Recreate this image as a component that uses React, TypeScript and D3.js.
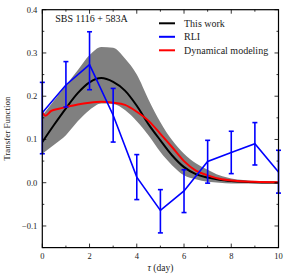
import React from 'react';
import * as d3 from 'd3';

// model grid (tau in days)
const gridX = [0, 0.5, 1, 1.5, 2, 2.5, 3, 3.5, 4, 4.5, 5, 5.5, 6, 6.5, 7, 7.5, 8, 8.5, 9, 9.5, 10];
const thisWork = [0.094, 0.134, 0.172, 0.207, 0.232, 0.242, 0.233, 0.213, 0.178, 0.135, 0.098, 0.063, 0.036, 0.02, 0.012, 0.007, 0.004, 0.002, 0.001, 0.0005, 0];
const bandUpper = [0.155, 0.19, 0.225, 0.26, 0.295, 0.314, 0.312, 0.287, 0.25, 0.192, 0.14, 0.098, 0.067, 0.045, 0.03, 0.017, 0.01, 0.006, 0.004, 0.002, 0.001];
const bandLower = [0.067, 0.088, 0.11, 0.142, 0.168, 0.183, 0.182, 0.168, 0.142, 0.109, 0.071, 0.04, 0.017, 0.008, 0.002, 0, -0.002, -0.002, -0.002, -0.002, -0.002];

// dynamical modeling
const dynX = [0, 0.13, 0.38, 0.7, 1, 1.5, 2, 2.5, 3, 3.5, 4, 4.5, 5, 5.5, 6, 6.5, 7, 7.5, 8, 9, 10];
const dynY = [0.163, 0.155, 0.166, 0.171, 0.175, 0.181, 0.185, 0.187, 0.185, 0.18, 0.164, 0.143, 0.113, 0.082, 0.05, 0.028, 0.017, 0.009, 0.005, 0.002, 0.001];

// RLI with error bars
const rliX = [0, 1, 2, 3, 4, 5, 6, 7, 8, 9, 10];
const rliY = [0.162, 0.226, 0.273, 0.156, 0.013, -0.064, -0.019, 0.049, 0.07, 0.09, 0.025];
const rliLo = [0.067, 0.175, 0.215, 0.094, -0.039, -0.116, -0.069, -0.001, 0.021, 0.041, -0.024];
const rliHi = [0.232, 0.28, 0.349, 0.218, 0.065, -0.016, 0.03, 0.098, 0.119, 0.139, 0.075];

const xMajor = [0, 2, 4, 6, 8, 10];
const xMinor = [1, 3, 5, 7, 9];
const yMajor = [-0.1, 0, 0.1, 0.2, 0.3, 0.4];
const yMinor = [-0.15, -0.05, 0.05, 0.15, 0.25, 0.35];

const legendItems = [
  { label: 'This work', color: '#000000' },
  { label: 'RLI', color: '#0000ff' },
  { label: 'Dynamical modeling', color: '#ff0000' },
];

const W = 290;
const H = 280;
const margin = { top: 9.7, right: 11.5, bottom: 32.4, left: 42.3 };
const font = '"Liberation Serif", "Times New Roman", serif';

export default function App() {
  const x = d3.scaleLinear().domain([0, 10]).range([margin.left, W - margin.right]);
  const y = d3.scaleLinear().domain([-0.15, 0.4]).range([H - margin.bottom, margin.top]);
  const x0 = x.range()[0], x1 = x.range()[1];
  const y0 = y.range()[0], y1 = y.range()[1];

  const band = d3.area<number>()
    .x((_, i) => x(gridX[i]))
    .y0((_, i) => y(bandLower[i]))
    .y1((_, i) => y(bandUpper[i]))
    .curve(d3.curveMonotoneX);
  const blackLine = d3.line<number>()
    .x((_, i) => x(gridX[i]))
    .y(d => y(d))
    .curve(d3.curveMonotoneX);
  const redLine = d3.line<number>()
    .x((_, i) => x(dynX[i]))
    .y(d => y(d))
    .curve(d3.curveMonotoneX);
  const blueLine = d3.line<number>()
    .x((_, i) => x(rliX[i]))
    .y(d => y(d));

  const cap = 2.5;

  return (
    <svg width={W} height={H} style={{ position: 'absolute', left: 0, top: 0, background: '#fff' }} fontFamily={font}>
      <defs>
        <clipPath id="plotArea">
          <rect x={x0} y={y1} width={x1 - x0} height={y0 - y1} />
        </clipPath>
      </defs>
      <g clipPath="url(#plotArea)">
        <path d={band(gridX) || ''} fill="#808080" />
        <path d={blackLine(thisWork) || ''} fill="none" stroke="#000" strokeWidth={2} />
        <path d={redLine(dynY) || ''} fill="none" stroke="#ff0000" strokeWidth={2} />
      </g>
      <g>
        <path d={blueLine(rliY) || ''} fill="none" stroke="#0000ff" strokeWidth={1.6} />
        {rliX.map((d, i) => (
          <g key={i} stroke="#0000ff" strokeWidth={1.6}>
            <line x1={x(d)} x2={x(d)} y1={y(rliLo[i])} y2={y(rliHi[i])} />
            <line x1={x(d) - cap} x2={x(d) + cap} y1={y(rliLo[i])} y2={y(rliLo[i])} />
            <line x1={x(d) - cap} x2={x(d) + cap} y1={y(rliHi[i])} y2={y(rliHi[i])} />
          </g>
        ))}
      </g>

      {/* frame and ticks */}
      <rect x={x0} y={y1} width={x1 - x0} height={y0 - y1} fill="none" stroke="#000" strokeWidth={1.2} />
      <g stroke="#000" strokeWidth={0.8}>
        {xMajor.map(t => (
          <g key={'xM' + t}>
            <line x1={x(t)} x2={x(t)} y1={y0} y2={y0 - 4} />
            <line x1={x(t)} x2={x(t)} y1={y1} y2={y1 + 4} />
          </g>
        ))}
        {xMinor.map(t => (
          <g key={'xm' + t}>
            <line x1={x(t)} x2={x(t)} y1={y0} y2={y0 - 2} />
            <line x1={x(t)} x2={x(t)} y1={y1} y2={y1 + 2} />
          </g>
        ))}
        {yMajor.map(t => (
          <g key={'yM' + t}>
            <line x1={x0} x2={x0 + 4} y1={y(t)} y2={y(t)} />
            <line x1={x1} x2={x1 - 4} y1={y(t)} y2={y(t)} />
          </g>
        ))}
        {yMinor.map(t => (
          <g key={'ym' + t}>
            <line x1={x0} x2={x0 + 2} y1={y(t)} y2={y(t)} />
            <line x1={x1} x2={x1 - 2} y1={y(t)} y2={y(t)} />
          </g>
        ))}
      </g>
      <g fontSize={8.5} fill="#222">
        {xMajor.map(t => (
          <text key={'xl' + t} x={x(t)} y={y0 + 11} textAnchor="middle">{t}</text>
        ))}
        {yMajor.map(t => (
          <text key={'yl' + t} x={x0 - 5} y={y(t) + 3} textAnchor="end">
            {(t < 0 ? '\u2212' : '') + Math.abs(t).toFixed(1)}
          </text>
        ))}
      </g>

      <text x={(x0 + x1) / 2} y={H - 9} textAnchor="middle" fontSize={9.5} fill="#222">
        <tspan fontStyle="italic">τ</tspan> (day)
      </text>
      <text transform={`translate(10, ${(y0 + y1) / 2}) rotate(-90)`} textAnchor="middle" fontSize={9} fill="#222">
        Transfer Function
      </text>

      <text x={x(0.55)} y={22} fontSize={10} fill="#111">SBS 1116 + 583A</text>

      <g>
        {legendItems.map((d, i) => (
          <g key={d.label} transform={`translate(159, ${23.3 + i * 13.5})`}>
            <line x1={0} x2={16} y1={0} y2={0} stroke={d.color} strokeWidth={2} />
            <text x={25} y={3.3} fontSize={10} fill="#222">{d.label}</text>
          </g>
        ))}
      </g>
    </svg>
  );
}
